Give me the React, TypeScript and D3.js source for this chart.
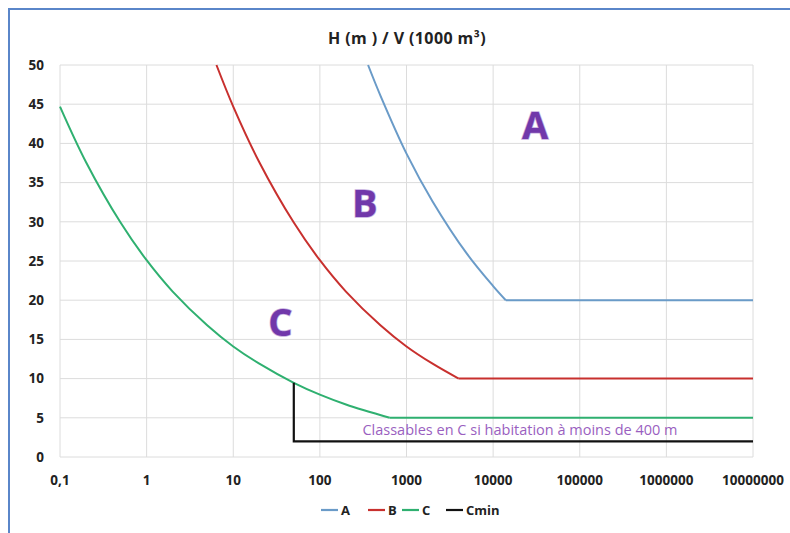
import { useEffect, useRef } from 'react'
import * as d3 from 'd3'

// V in 1000 m3, H in m
const seriesA = [
  { v: 360, h: 50 }, { v: 500, h: 46.1 }, { v: 1000, h: 38.7 }, { v: 2000, h: 32.6 },
  { v: 5000, h: 25.9 }, { v: 10000, h: 21.8 }, { v: 14000, h: 20 },
]
const plateauA = [{ v: 14000, h: 20 }, { v: 10000000, h: 20 }]

const seriesB = [
  { v: 6.4, h: 50 }, { v: 10, h: 44.7 }, { v: 20, h: 37.6 }, { v: 50, h: 29.9 },
  { v: 100, h: 25.1 }, { v: 200, h: 21.1 }, { v: 500, h: 16.8 }, { v: 1000, h: 14.1 },
  { v: 2000, h: 11.9 }, { v: 4000, h: 10 },
]
const plateauB = [{ v: 4000, h: 10 }, { v: 10000000, h: 10 }]

const seriesC = [
  { v: 0.1, h: 44.7 }, { v: 0.2, h: 37.6 }, { v: 0.5, h: 29.9 }, { v: 1, h: 25.1 },
  { v: 2, h: 21.1 }, { v: 5, h: 16.8 }, { v: 10, h: 14.1 }, { v: 20, h: 11.9 },
  { v: 50, h: 9.46 }, { v: 100, h: 7.95 }, { v: 200, h: 6.7 }, { v: 640, h: 5 },
]
const plateauC = [{ v: 640, h: 5 }, { v: 10000000, h: 5 }]

const seriesCmin = [{ v: 50, h: 9.46 }, { v: 50, h: 2 }, { v: 10000000, h: 2 }]

const xTicks = [0.1, 1, 10, 100, 1000, 10000, 100000, 1000000, 10000000]
const xTickLabels = ['0,1', '1', '10', '100', '1000', '10000', '100000', '1000000', '10000000']
const yTicks = [0, 5, 10, 15, 20, 25, 30, 35, 40, 45, 50]

const legendItems = [
  { name: 'A', color: '#6a9bc8' },
  { name: 'B', color: '#c8302e' },
  { name: 'C', color: '#2fb070' },
  { name: 'Cmin', color: '#111111' },
]

const zoneLabels = [
  { text: 'A', v: 30500, h: 42.3 },
  { text: 'B', v: 330, h: 32.4 },
  { text: 'C', v: 35, h: 17.2 },
]

export default function App() {
  const ref = useRef<SVGSVGElement | null>(null)

  useEffect(() => {
    const svg = d3.select(ref.current)
    svg.selectAll('*').remove()

    const W = 790
    const H = 533
    const left = 60, right = 753, top = 65, bottom = 457
    const font = "'Open Sans', sans-serif"

    svg.append('rect').attr('width', W).attr('height', H).attr('fill', '#fff')

    // blue frame (left and top only visible)
    svg.append('line').attr('x1', 9).attr('x2', 9).attr('y1', 8).attr('y2', H)
      .attr('stroke', '#5a86c9').attr('stroke-width', 2)
    svg.append('line').attr('x1', 8).attr('x2', W).attr('y1', 9).attr('y2', 9)
      .attr('stroke', '#5a86c9').attr('stroke-width', 2)

    const x = d3.scaleLog().domain([0.1, 10000000]).range([left, right])
    const y = d3.scaleLinear().domain([0, 50]).range([bottom, top])

    // grid
    svg.append('g').selectAll('line').data(xTicks).enter().append('line')
      .attr('x1', d => x(d)).attr('x2', d => x(d))
      .attr('y1', top).attr('y2', bottom)
      .attr('stroke', '#dcdcdc').attr('stroke-width', 1)
    svg.append('g').selectAll('line').data(yTicks).enter().append('line')
      .attr('x1', left).attr('x2', right)
      .attr('y1', d => y(d)).attr('y2', d => y(d))
      .attr('stroke', '#dcdcdc').attr('stroke-width', 1)

    // tick labels
    svg.append('g').selectAll('text').data(yTicks).enter().append('text')
      .attr('x', 44).attr('y', d => y(d)).attr('dy', '0.35em')
      .attr('text-anchor', 'end')
      .style('font-family', font).style('font-weight', 700).style('font-size', '13.5px')
      .attr('fill', '#222')
      .text(d => d)
    svg.append('g').selectAll('text').data(xTicks).enter().append('text')
      .attr('x', d => x(d)).attr('y', 480).attr('dy', '0.35em')
      .attr('text-anchor', 'middle')
      .style('font-family', font).style('font-weight', 700).style('font-size', '13.5px')
      .attr('fill', '#222')
      .text((d, i) => xTickLabels[i])

    // title
    svg.append('text')
      .attr('x', 407).attr('y', 38).attr('dy', '0.35em')
      .attr('text-anchor', 'middle')
      .style('font-family', font).style('font-weight', 700).style('font-size', '16px')
      .style('letter-spacing', '0.4px')
      .attr('fill', '#222')
      .text('H (m ) / V (1000 m³)')

    const smooth = d3.line<{ v: number, h: number }>()
      .x(d => x(d.v)).y(d => y(d.h)).curve(d3.curveCatmullRom)
    const straight = d3.line<{ v: number, h: number }>()
      .x(d => x(d.v)).y(d => y(d.h))

    const drawSeries = (curve: { v: number, h: number }[], flat: { v: number, h: number }[], color: string) => {
      svg.append('path').datum(curve).attr('d', smooth)
        .attr('fill', 'none').attr('stroke', color).attr('stroke-width', 2)
      svg.append('path').datum(flat).attr('d', straight)
        .attr('fill', 'none').attr('stroke', color).attr('stroke-width', 2)
    }
    drawSeries(seriesA, plateauA, legendItems[0].color)
    drawSeries(seriesB, plateauB, legendItems[1].color)
    drawSeries(seriesC, plateauC, legendItems[2].color)

    svg.append('path').datum(seriesCmin).attr('d', straight)
      .attr('fill', 'none').attr('stroke', legendItems[3].color).attr('stroke-width', 2.2)

    // annotation
    svg.append('text')
      .attr('x', 520).attr('y', 430).attr('dy', '0.35em')
      .attr('text-anchor', 'middle')
      .style('font-family', font).style('font-size', '14.5px')
      .attr('fill', '#9a5fbf')
      .text('Classables en C si habitation à moins de 400 m')

    // zone letters
    svg.append('g').selectAll('text').data(zoneLabels).enter().append('text')
      .attr('x', d => x(d.v)).attr('y', d => y(d.h)).attr('dy', '0.36em')
      .attr('text-anchor', 'middle')
      .style('font-family', font).style('font-weight', 700).style('font-size', '38px')
      .attr('fill', '#7138aa')
      .attr('stroke', '#c7afe0').attr('stroke-width', 1.5).attr('paint-order', 'stroke')
      .text(d => d.text)

    // legend
    const legendX = [321, 368, 402, 446]
    const lg = svg.append('g').selectAll('g').data(legendItems).enter().append('g')
      .attr('transform', (d, i) => `translate(${legendX[i]},510)`)
    lg.append('line').attr('x1', 0).attr('x2', 17).attr('y1', 0).attr('y2', 0)
      .attr('stroke', d => d.color).attr('stroke-width', 2.2)
    lg.append('text').attr('x', 20).attr('dy', '0.35em')
      .style('font-family', font).style('font-weight', 700).style('font-size', '13px')
      .attr('fill', '#222')
      .text(d => d.name)
  }, [])

  return (
    <svg ref={ref} width={790} height={533}
      style={{ position: 'absolute', left: 0, top: 0, display: 'block' }} />
  )
}
